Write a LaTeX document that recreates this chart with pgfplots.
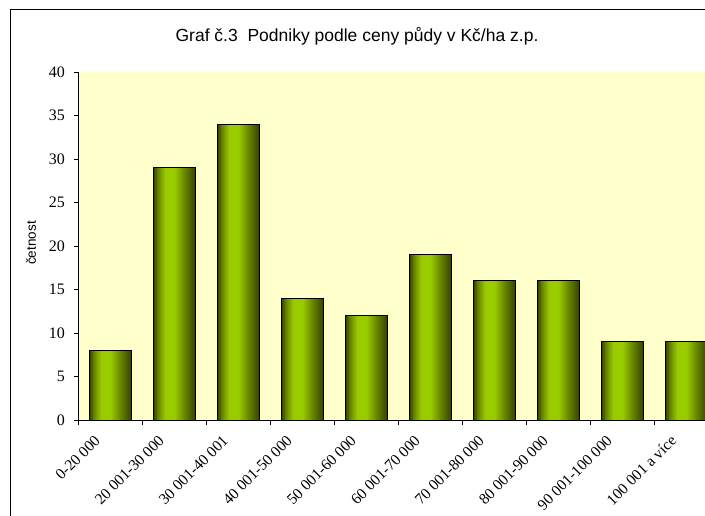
\documentclass[border=0pt]{standalone}
\usepackage{fontspec}
\setmainfont{Liberation Serif}
\newfontfamily\arial{Liberation Sans}
\usepackage{pgfplots}
\pgfplotsset{compat=1.18}
\definecolor{bg}{HTML}{FFFFCC}
\definecolor{dk}{HTML}{344000}
\definecolor{md}{HTML}{668400}
\definecolor{lt}{HTML}{99CC00}
\pgfdeclarehorizontalshading{barshade}{100bp}{color(0bp)=(dk); color(25bp)=(dk); color(30bp)=(md); color(39bp)=(lt); color(50bp)=(lt); color(62bp)=(md); color(75bp)=(dk); color(100bp)=(dk)}
\pgfplotsset{mybar/.style={ybar, bar width=42pt, bar shift=0pt, draw=black, line width=0.8pt, shading=barshade}}
\begin{document}
\begin{tikzpicture}[x=1pt,y=1pt]
\useasboundingbox (0,0) rectangle (705,515);
\clip (0,0) rectangle (705,515);
\fill[white] (0,0) rectangle (705,515);
\draw[black, line width=1pt] (10,-20) -- (10,505) -- (730,505);
\node[font=\arial\fontsize{17.5}{17.5}\selectfont] at (357,479) {Graf č.3\ \ Podniky podle ceny půdy v~Kč/ha z.p.};
\node[rotate=90, font=\arial\fontsize{13.5}{13.5}\selectfont] at (31,272) {četnost};
\begin{axis}[at={(78.5pt,95pt)}, anchor=south west, scale only axis,
  width=640pt, height=348pt,
  xmin=-0.5, xmax=9.5, ymin=0, ymax=40,
  axis x line=bottom, axis y line=left,
  axis line style={-, line width=0.8pt},
  axis background/.style={fill=bg},
  ytick={0,5,...,40},
  xtick={0,...,9},
  xticklabels={0-20 000,20 001-30 000,30 001-40 001,40 001-50 000,50 001-60 000,60 001-70 000,70 001-80 000,80 001-90 000,90 001-100 000,100 001 a více},
  minor xtick={-0.5,0.5,...,9.5},
  major x tick style={draw=none},
  tick align=outside,
  major tick length=5pt, minor tick length=5pt,
  tick style={black, line width=0.8pt},
  /pgf/number format/assume math mode=true,
  y tick label style={font=\fontsize{16}{16}\selectfont, xshift=-5pt},
  x tick label style={font=\fontsize{15.5}{15.5}\selectfont, rotate=45, anchor=east, xshift=-15pt},
]
\addplot[mybar] coordinates {(0,8)};
\addplot[mybar] coordinates {(1,29)};
\addplot[mybar] coordinates {(2,34)};
\addplot[mybar] coordinates {(3,14)};
\addplot[mybar] coordinates {(4,12)};
\addplot[mybar] coordinates {(5,19)};
\addplot[mybar] coordinates {(6,16)};
\addplot[mybar] coordinates {(7,16)};
\addplot[mybar] coordinates {(8,9)};
\addplot[mybar] coordinates {(9,9)};
\end{axis}
\end{tikzpicture}
\end{document}
